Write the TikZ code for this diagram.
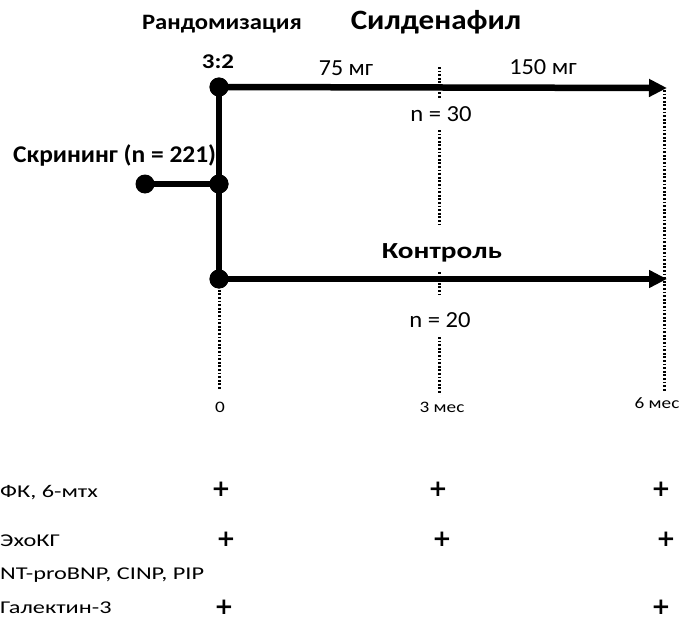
\documentclass[tikz,border=0pt]{standalone}
\usepackage{fontspec}
\usepackage{graphicx}
\setmainfont{Carlito}
\newfontfamily\plusfont{DejaVu Sans}
\usetikzlibrary{arrows.meta}
\newcommand\sx[2]{\scalebox{#1}[1]{#2}}
\newcommand\fs[1]{\fontsize{#1}{#1}\selectfont}
\begin{document}
\begin{tikzpicture}[x=1pt,y=-1pt,
  thickline/.style={line width=6.5pt},
  arr/.style={thickline,-{Triangle[length=18pt,width=17pt]}},
  dotline/.style={line width=3pt,dash pattern=on 1.8pt off 1.8pt},
  dotnode/.style={circle,fill=black,inner sep=0pt,minimum size=19pt},
  txt/.style={inner sep=0pt},
  rowlbl/.style={inner sep=0pt,anchor=west,font=\fs{18}},
  plus/.style={inner sep=0pt,font=\plusfont\fs{23}\bfseries}]
\useasboundingbox (0,0) rectangle (681,621);
% dots
\node[dotnode] (top) at (219,87) {};
\node[dotnode] (mid) at (219,184) {};
\node[dotnode] (bot) at (219,279) {};
\node[dotnode] (scr) at (145,184) {};
\coordinate (topend) at (667,88);
\coordinate (botend) at (667,279);
% dotted lines
\coordinate (z0) at (219,390);
\coordinate (t6) at (664,90);
\coordinate (b6) at (664,392);
\draw[dotline] (bot.center) -- (z0);
\draw[dotline] (t6) -- (b6);
\coordinate (m1a) at (439,67); \coordinate (m1b) at (439,98);
\coordinate (m2a) at (439,130); \coordinate (m2b) at (439,225);
\coordinate (m3a) at (439,272); \coordinate (m3b) at (439,296);
\coordinate (m4a) at (439,337); \coordinate (m4b) at (439,393);
\draw[dotline] (m1a) -- (m1b);
\draw[dotline] (m2a) -- (m2b);
\draw[dotline] (m3a) -- (m3b);
\draw[dotline] (m4a) -- (m4b);
% thick lines
\draw[thickline] (top.center) -- (bot.center);
\draw[thickline] (scr.center) -- (mid.center);
\draw[arr] (top.center) -- (topend);
\draw[arr] (bot.center) -- (botend);
\node[dotnode] at (top) {};
\node[dotnode] at (mid) {};
\node[dotnode] at (bot) {};
% texts
\node[txt,font=\fs{22}\bfseries] (rand) at (222,24) {\sx{1.12}{Рандомизация}};
\node[txt,font=\fs{28}\bfseries] (sild) at (436,22) {\sx{1.11}{Силденафил}};
\node[txt,font=\fs{21}\bfseries] (ratio) at (218,62) {\sx{1.19}{3:2}};
\node[txt,font=\fs{23}] (d75) at (346,68) {\sx{1.04}{75 мг}};
\node[txt,font=\fs{23}] (d150) at (543,67) {\sx{1.06}{150 мг}};
\node[txt,font=\fs{23}] (n30) at (441,114) {\sx{1.07}{n = 30}};
\node[txt,font=\fs{24}\bfseries,anchor=west] (scrl) at (13,155) {\sx{1.06}{Скрининг (n = 221)}};
\node[txt,font=\fs{23}\bfseries] (ctrl) at (442,253) {\sx{1.27}{Контроль}};
\node[txt,font=\fs{23}] (n20) at (440,320) {\sx{1.07}{n = 20}};
\node[txt,font=\fs{16}] (t0) at (220,407) {\sx{1.2}{0}};
\node[txt,font=\fs{16}] (t3) at (442,407) {\sx{1.2}{3 мес}};
\node[txt,font=\fs{16}] (t6l) at (657,403) {\sx{1.2}{6 мес}};
% table
\node[rowlbl] (r1) at (0,493) {\sx{1.35}{ФК, 6-мтх}};
\node[rowlbl] (r2) at (0,541) {\sx{1.35}{ЭхоКГ}};
\node[rowlbl] (r3) at (0,575) {\sx{1.35}{NT-proBNP, CINP, PIP}};
\node[rowlbl] (r4) at (0,608) {\sx{1.35}{Галектин-3}};
\node[plus] (p11) at (221,489) {+};
\node[plus] (p12) at (438,489) {+};
\node[plus] (p13) at (661,489) {+};
\node[plus] (p21) at (226,539) {+};
\node[plus] (p22) at (442,539) {+};
\node[plus] (p23) at (666,539) {+};
\node[plus] (p41) at (224,607) {+};
\node[plus] (p43) at (661,607) {+};
\end{tikzpicture}
\end{document}
